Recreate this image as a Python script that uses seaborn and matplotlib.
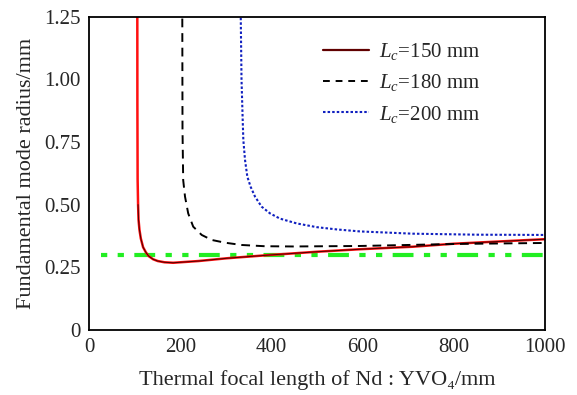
import numpy as np
import pandas as pd
import matplotlib
matplotlib.use("Agg")
import matplotlib.pyplot as plt
import seaborn as sns
from matplotlib.ticker import MultipleLocator, FixedLocator, FuncFormatter
from matplotlib.lines import Line2D

# ---- data ----
f150 = [105.3, 105.5, 106, 107, 108, 110, 113, 118, 124, 130, 140, 150, 165, 184, 240, 302, 396, 500, 594, 710, 800, 900, 1000]
w150 = [1.30, 0.90, 0.60, 0.50, 0.44, 0.40, 0.365, 0.33, 0.31, 0.295, 0.282, 0.275, 0.270, 0.268, 0.275, 0.286, 0.299, 0.312, 0.322, 0.332, 0.344, 0.353, 0.362]

f180 = [204, 204.5, 206, 210, 217, 228, 246.6, 268.6, 298, 334, 385, 447, 594, 700, 800, 900, 1000]
w180 = [1.30, 0.80, 0.598, 0.532, 0.465, 0.412, 0.379, 0.359, 0.348, 0.339, 0.334, 0.333, 0.335, 0.339, 0.343, 0.345, 0.347]

f200 = [332, 334, 336.6, 338, 341.7, 346.8, 354, 363.6, 378, 396.5, 418.5, 455, 499, 543, 594, 710, 850, 1000]
w200 = [1.30, 1.00, 0.837, 0.758, 0.678, 0.611, 0.571, 0.532, 0.492, 0.465, 0.444, 0.425, 0.41, 0.401, 0.393, 0.384, 0.380, 0.379]

f_ref = [25, 1000]
w_ref = [0.30, 0.30]

labels = ["$L_c$=150 mm", "$L_c$=180 mm", "$L_c$=200 mm"]
xticks = [0, 200, 400, 600, 800, 1000]
yticks = [0, 0.25, 0.50, 0.75, 1.00, 1.25]

sns.set_style("white")
plt.rcParams["font.family"] = ["Liberation Serif", "Noto Sans CJK SC"]
plt.rcParams["mathtext.fontset"] = "custom"
plt.rcParams["mathtext.rm"] = "Liberation Serif"
plt.rcParams["mathtext.it"] = "Liberation Serif:italic"

fig = plt.figure(figsize=(5.77, 3.95), dpi=100)
ax = fig.add_axes([0.1548, 0.1646, 0.7897, 0.7936])

# reference level
sns.lineplot(x=f_ref, y=w_ref, ax=ax, color="#22ee22", lw=3.0, sort=False, estimator=None)
ax.lines[-1].set_dashes([1.5, 2.5, 1.5, 2.5, 5, 2.5])

# Lc = 150
sns.lineplot(x=f150, y=w150, ax=ax, color="#ff1010", lw=1.8, sort=False, estimator=None)
low = [i for i, w in enumerate(w150) if w <= 0.55]
sns.lineplot(x=[f150[i] for i in low], y=[w150[i] for i in low], ax=ax, color="#4a0000",
             lw=0.7, sort=False, estimator=None)
# Lc = 180
sns.lineplot(x=f180, y=w180, ax=ax, color="black", lw=1.4, sort=False, estimator=None)
ax.lines[-1].set_dashes([4.5, 3])
# Lc = 200
sns.lineplot(x=f200, y=w200, ax=ax, color="#1020c0", lw=1.5, sort=False, estimator=None)
ax.lines[-1].set_dashes([1.2, 1.0])

# legend proxies
h1 = Line2D([], [], color="#600000", lw=1.6)
h2 = Line2D([], [], color="black", lw=1.4, dashes=[3.5, 3])
h3 = Line2D([], [], color="#1020c0", lw=1.5, dashes=[1.2, 1.0])
ax.legend([h1, h2, h3], labels, loc="upper left", bbox_to_anchor=(0.472, 0.982),
          frameon=False, fontsize=15, handlelength=2.2, handletextpad=0.5,
          labelspacing=0.5)

ax.set_xlim(0, 1000)
ax.set_ylim(0, 1.25)
ax.xaxis.set_major_locator(FixedLocator(xticks))
ax.yaxis.set_major_locator(FixedLocator(yticks))
ax.xaxis.set_minor_locator(MultipleLocator(100))
ax.yaxis.set_minor_locator(MultipleLocator(0.125))
ax.xaxis.set_major_formatter(FuncFormatter(lambda v, p: "0" if v == 0 else f"{v:.0f}"))
ax.yaxis.set_major_formatter(FuncFormatter(lambda v, p: "0" if v == 0 else f"{v:.2f}"))
ax.tick_params(which="both", direction="in", top=False, right=False, labelsize=15, width=1.2,
               pad=6)
ax.tick_params(which="major", length=6)
ax.tick_params(which="minor", length=3.5)
for s in ax.spines.values():
    s.set_linewidth(1.3)
    s.set_color("black")

ax.set_xlabel("Thermal focal length of Nd : YVO\u2084/mm", fontsize=16, labelpad=9)
ax.set_ylabel("Fundamental mode radius/mm", fontsize=16, labelpad=6)

fig.savefig("out.png", dpi=100)
